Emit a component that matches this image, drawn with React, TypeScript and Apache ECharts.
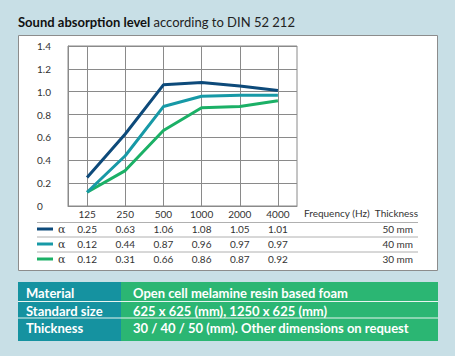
import React, { useEffect, useRef } from "react";
import * as echarts from "echarts";

const frequencies = ["125", "250", "500", "1000", "2000", "4000"];
const alpha50 = [0.25, 0.63, 1.06, 1.08, 1.05, 1.01];
const alpha40 = [0.12, 0.44, 0.87, 0.96, 0.97, 0.97];
const alpha30 = [0.12, 0.31, 0.66, 0.86, 0.87, 0.92];
const thicknessLabels = ["50 mm", "40 mm", "30 mm"];
const seriesColors = ["#0d4a7a", "#1799a6", "#1bb066"];
const specLabels = ["Material", "Standard size", "Thickness"];
const specValues = [
  "Open cell melamine resin based foam",
  "625 x 625 (mm), 1250 x 625 (mm)",
  "30 / 40 / 50 (mm). Other dimensions on request",
];

const FONT = "Lato, 'Open Sans', sans-serif";
const FS = 10;

export default function App() {
  const ref = useRef<HTMLDivElement>(null);
  useEffect(() => {
    if (!ref.current) return;
    const chart = echarts.init(ref.current, undefined, { renderer: "svg" });
    const seriesData = [alpha50, alpha40, alpha30];
    const option: any = {
      animation: false,
      backgroundColor: "#c8dfe6",
      textStyle: { fontFamily: FONT },
      grid: {
        left: 68,
        top: 46,
        right: 158,
        bottom: 150,
        show: true,
        borderColor: "#8a8a8a",
        borderWidth: 1,
        z: 3,
      },
      xAxis: {
        type: "category",
        data: frequencies,
        boundaryGap: true,
        axisLine: { show: true, lineStyle: { color: "#8a8a8a" } },
        axisTick: { show: false },
        axisLabel: { margin: 3, color: "#333", fontSize: FS, fontFamily: FONT },
        splitLine: { show: true, alignWithLabel: true, lineStyle: { color: "#8a8a8a", width: 1 } },
      },
      yAxis: {
        type: "value",
        min: 0,
        max: 1.4,
        interval: 0.2,
        axisLine: { show: true, lineStyle: { color: "#8a8a8a" } },
        axisTick: { show: false },
        axisLabel: {
          align: "left",
          margin: 31,
          color: "#333",
          fontSize: FS,
          fontFamily: FONT,
          formatter: (v: number) => (v === 0 ? "0" : v.toFixed(1)),
        },
        splitLine: { show: true, lineStyle: { color: "#8a8a8a", width: 1 } },
      },
      series: seriesData.map((d, i) => ({
        type: "line",
        data: d,
        symbol: "none",
        z: 5 - i,
        lineStyle: { color: seriesColors[i], width: 3 },
      })),
    };
    chart.setOption(option);

    const graphics: any[] = [];
    graphics.push({
      type: "text",
      x: 18,
      y: 22,
      style: {
        text: "{b|Sound absorption level} {n|according to DIN 52 212}",
        verticalAlign: "middle",
        rich: {
          b: { fontFamily: FONT, fontSize: 13, fontWeight: "bold", fill: "#111" },
          n: { fontFamily: FONT, fontSize: 13, fill: "#222" },
        },
      },
    });
    graphics.push({
      type: "rect",
      z: -1,
      shape: { x: 18.5, y: 35.5, width: 419, height: 235 },
      style: { fill: "#ffffff", stroke: "#8c8c8c", lineWidth: 1 },
    });
    const rowY = [229, 244, 259];
    const lineY = [222.5, 237, 252];
    lineY.forEach((ly) => {
      graphics.push({
        type: "line",
        shape: { x1: 37, y1: ly, x2: 418, y2: ly },
        style: { stroke: "#b0b0b0", lineWidth: 1 },
      });
    });
    graphics.push({
      type: "text",
      x: 304,
      y: 213,
      style: { text: "Frequency (Hz)", fontFamily: FONT, fontSize: FS, fill: "#333", verticalAlign: "middle" },
    });
    graphics.push({
      type: "text",
      x: 418,
      y: 213,
      style: { text: "Thickness", fontFamily: FONT, fontSize: FS, fill: "#333", align: "right", verticalAlign: "middle" },
    });
    seriesData.forEach((d, r) => {
      const y = rowY[r];
      graphics.push({
        type: "line",
        shape: { x1: 37, y1: y, x2: 53, y2: y },
        style: { stroke: seriesColors[r], lineWidth: 3 },
      });
      graphics.push({
        type: "text",
        x: 58,
        y: y,
        style: { text: "α", fontFamily: "'DejaVu Serif', serif", fontSize: 11, fill: "#333", verticalAlign: "middle" },
      });
      d.forEach((v, i) => {
        const x = chart.convertToPixel({ xAxisIndex: 0 }, frequencies[i]) as number;
        graphics.push({
          type: "text",
          x: x,
          y: y,
          style: { text: v.toFixed(2), fontFamily: FONT, fontSize: FS, fill: "#333", align: "center", verticalAlign: "middle" },
        });
      });
      graphics.push({
        type: "text",
        x: 413,
        y: y,
        style: { text: thicknessLabels[r], fontFamily: FONT, fontSize: FS, fill: "#333", align: "right", verticalAlign: "middle" },
      });
    });
    graphics.push({
      type: "rect",
      shape: { x: 18, y: 282, width: 103, height: 59 },
      style: { fill: "#1592a0" },
    });
    graphics.push({
      type: "rect",
      shape: { x: 121, y: 282, width: 317, height: 59 },
      style: { fill: "#2bb673" },
    });
    [301.5, 318].forEach((ly) => {
      graphics.push({
        type: "line",
        shape: { x1: 18, y1: ly, x2: 438, y2: ly },
        style: { stroke: "#e8f4f0", lineWidth: 1.2 },
      });
    });
    const specY = [292.5, 310.5, 328];
    specLabels.forEach((s, i) => {
      graphics.push({
        type: "text",
        x: 26,
        y: specY[i],
        style: { text: s, fontFamily: FONT, fontSize: 13, fontWeight: "bold", fill: "#ffffff", verticalAlign: "middle" },
      });
      graphics.push({
        type: "text",
        x: 133,
        y: specY[i],
        style: { text: specValues[i], fontFamily: FONT, fontSize: 13, fontWeight: "bold", fill: "#ffffff", verticalAlign: "middle" },
      });
    });
    chart.setOption({ graphic: { elements: graphics } });
    return () => chart.dispose();
  }, []);
  return (
    <div
      ref={ref}
      style={{ position: "fixed", left: 0, top: 0, width: 455, height: 356 }}
    />
  );
}
